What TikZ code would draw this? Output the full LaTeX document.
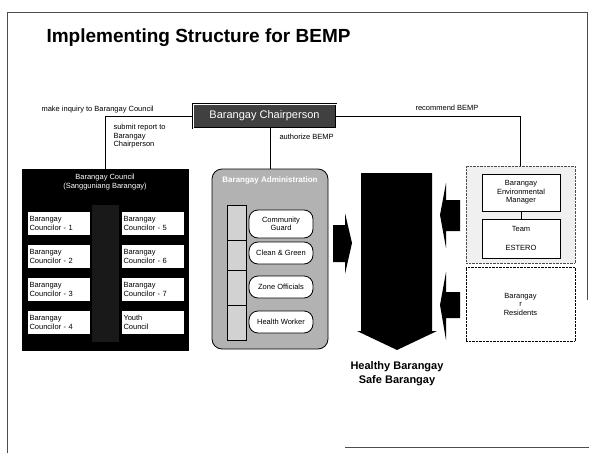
\documentclass[tikz,border=0pt]{standalone}
\usepackage{fontspec}
\setmainfont{Liberation Sans}
\usetikzlibrary{positioning}

\begin{document}
\begin{tikzpicture}[x=1pt, y=-1pt, font=\fontsize{7.5}{8.5}\selectfont,
  box/.style={draw, anchor=north west, inner sep=0pt, outer sep=0pt},
  cell/.style={box, fill=white, minimum width=63pt, minimum height=24pt,
    text width=58pt, align=left, font=\fontsize{7.5}{9}\selectfont},
  pill/.style={draw, thick, fill=white, rounded corners=9pt, minimum width=64pt,
    minimum height=22pt, inner sep=1pt, align=center, font=\fontsize{7.5}{8.5}\selectfont},
  link/.style={draw, semithick}]
  \useasboundingbox (0,0) rectangle (589,453);

  % Slide frame
  \draw[black!70] (7,453) -- (7,12) -- (587,12) -- (587,300);
  \draw[black!70] (345,447) -- (589,447);

  % Title
  \node[anchor=west, font=\fontsize{19}{20}\selectfont\bfseries] (title) at (43,38)
    {Implementing Structure for BEMP};

  % Barangay Chairperson
  \node[box, fill=black!75, thick, double=white, double distance=0.6pt,
    minimum width=143pt, minimum height=24pt, text=white,
    font=\fontsize{11}{12}\selectfont] (chair) at (193,104) {Barangay Chairperson};

  % Barangay Council with its members
  \node[box, fill=black, minimum width=166pt, minimum height=181pt] (council) at (22,169) {};
  \fill[black!90] (92,205) rectangle (119,342);
  \node[text=white, align=center] (counciltitle) at (105,182)
    {Barangay Council\\(Sangguniang Barangay)};
  \foreach \r/\y in {1/211, 2/244, 3/277, 4/310} {
    \node[cell] (left\r) at (27,\y) {Barangay\\Councilor - \r};
  }
  \foreach \r/\y in {5/211, 6/244, 7/277} {
    \node[cell] (right\r) at (121,\y) {Barangay\\Councilor - \r};
  }
  \node[cell] (youth) at (121,310) {Youth\\Council};

  % Barangay Administration
  \node[box, fill=gray!60, thick, rounded corners=10pt, minimum width=116pt,
    minimum height=180pt] (admin) at (212,169) {};
  \node[text=white, font=\fontsize{8}{9}\selectfont\bfseries] (admintitle) at (270,180)
    {Barangay Administration};
  \draw[fill=gray!35] (227,205) rectangle (246,340);
  \foreach \y in {240, 270, 305} {
    \draw (227,\y) -- (246,\y);
  }
  \node[pill, minimum height=28pt] (guard) at (281,224) {Community\\Guard};
  \node[pill] (green) at (281,253) {Clean \& Green};
  \node[pill] (zone) at (281,287) {Zone Officials};
  \node[pill] (health) at (281,322) {Health Worker};

  % Big arrow and the arrows into it
  \fill (361,173) -- (432,173) -- (432,331) -- (437,331) -- (397,350)
    -- (357,331) -- (361,331) -- cycle;
  \fill (333,225) -- (345,225) -- (345,213) -- (352,243) -- (345,274)
    -- (345,262) -- (333,262) -- cycle;
  \fill (460,200) -- (446,200) -- (446,183) -- (440,215) -- (446,248)
    -- (446,231) -- (460,231) -- cycle;
  \fill (460,292) -- (446,292) -- (446,272) -- (440,305) -- (446,340)
    -- (446,318) -- (460,318) -- cycle;

  % Environmental manager and team
  \node[box, fill=gray!12, draw=black!70, densely dotted, minimum width=109pt,
    minimum height=97pt] (manage) at (466,166) {};
  \node[box, fill=white, minimum width=78pt, minimum height=37pt, align=center]
    (em) at (482,174) {Barangay\\Environmental\\Manager};
  \node[box, fill=white, minimum width=78pt, minimum height=39pt, align=center]
    (team) at (482,219) {Team\\[11pt]ESTERO};
  \draw (em) -- (team);

  % Residents
  \node[box, fill=white, densely dotted, minimum width=109pt, minimum height=74pt,
    align=center] (residents) at (466,267) {Barangay\\r\\Residents};

  % Result
  \node[align=center, font=\fontsize{11}{14}\selectfont\bfseries] (result) at (397,374)
    {Healthy Barangay\\Safe Barangay};

  % Connectors and their labels
  \draw[link] (chair.west) -| (council.north);
  \draw[link] (chair.east) -| (manage.north);
  \draw[link] (admin.north) -- (admin.north |- chair.south);
  \node[anchor=west] (inquiry) at (38,110) {make inquiry to Barangay Council};
  \node[anchor=west] (recommend) at (412,108) {recommend BEMP};
  \node[anchor=north west, align=left] (submit) at (110,121)
    {submit report to\\Barangay\\Chairperson};
  \node[anchor=west] (authorize) at (276,137) {authorize BEMP};
\end{tikzpicture}
\end{document}
